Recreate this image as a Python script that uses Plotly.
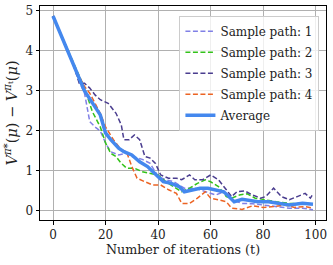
import plotly.graph_objects as go

# Data
t_avg = [0, 8, 10, 12, 15, 18, 20, 22, 25, 27, 30, 33, 36, 40, 42, 45, 48, 50, 53, 56, 59, 62, 65, 67, 69, 72, 75, 78, 82, 86, 90, 95, 99]
y_avg = [4.87, 3.6, 3.27, 3.0, 2.7, 2.4, 1.95, 1.78, 1.57, 1.48, 1.4, 1.23, 1.11, 0.86, 0.73, 0.69, 0.61, 0.48, 0.52, 0.57, 0.57, 0.52, 0.48, 0.36, 0.23, 0.29, 0.27, 0.23, 0.23, 0.19, 0.15, 0.19, 0.17]

t_p1 = [0, 8, 10, 12, 14, 16, 18, 20, 22, 25, 28, 30, 34, 37, 40, 43, 46, 50, 54, 58, 62, 65, 68, 72, 76, 80, 85, 90, 95, 99]
y_p1 = [4.87, 3.6, 3.23, 2.94, 2.23, 2.1, 2.0, 1.7, 1.48, 1.4, 1.44, 1.36, 1.29, 1.19, 0.86, 0.78, 0.73, 0.57, 0.57, 0.48, 0.4, 0.48, 0.28, 0.19, 0.18, 0.15, 0.11, 0.07, 0.07, 0.03]

t_p2 = [0, 8, 10, 12, 15, 18, 20, 22, 24, 26, 28, 31, 34, 37, 40, 43, 46, 49, 52, 55, 58, 60, 63, 66, 68, 71, 74, 77, 80, 85, 90, 95, 99]
y_p2 = [4.87, 3.65, 3.36, 3.07, 2.48, 2.1, 1.7, 1.44, 1.36, 1.19, 1.07, 1.07, 0.98, 0.94, 0.9, 0.73, 0.61, 0.48, 0.57, 0.69, 0.78, 0.73, 0.61, 0.36, 0.32, 0.4, 0.43, 0.32, 0.29, 0.23, 0.19, 0.18, 0.18]

t_p3 = [0, 8, 10, 12, 14, 16, 18, 21, 24, 26, 27, 29, 31, 33, 35, 37, 39, 41, 44, 47, 49, 52, 54, 57, 60, 63, 66, 68, 70, 73, 76, 79, 81, 84, 87, 90, 93, 96, 98, 99]
y_p3 = [4.87, 3.6, 3.19, 3.19, 3.07, 2.9, 2.78, 2.69, 2.44, 2.15, 1.78, 1.78, 1.9, 1.78, 1.36, 1.32, 1.19, 0.9, 0.82, 0.82, 0.78, 0.9, 0.78, 0.78, 0.9, 0.78, 0.53, 0.36, 0.48, 0.5, 0.4, 0.32, 0.36, 0.57, 0.36, 0.28, 0.36, 0.44, 0.32, 0.43]

t_p4 = [0, 8, 10, 12, 14, 16, 18, 20, 23, 26, 28, 30, 32, 35, 38, 41, 44, 47, 49, 52, 55, 58, 60, 63, 66, 68, 72, 76, 80, 84, 88, 92, 96, 99]
y_p4 = [4.87, 3.62, 3.36, 3.11, 2.94, 2.69, 2.44, 2.1, 1.78, 1.53, 1.48, 1.11, 0.82, 0.73, 0.65, 0.65, 0.53, 0.44, 0.19, 0.19, 0.32, 0.48, 0.32, 0.28, 0.23, 0.07, 0.04, 0.13, 0.09, 0.11, 0.15, 0.09, 0.11, 0.07]

names = ["Sample path: 1", "Sample path: 2", "Sample path: 3", "Sample path: 4"]
colors = ["#8080e6", "#33c21a", "#4a3d8f", "#ec6424"]
avg_color = "#4488ee"

FONT = "DejaVu Serif"

fig = go.Figure()
for i, (tt, yy, nm, c) in enumerate(zip([t_p1, t_p2, t_p3, t_p4], [y_p1, y_p2, y_p3, y_p4], names, colors)):
    fig.add_trace(go.Scatter(x=tt, y=yy, mode="lines", name=nm, legendgroup=f"g{i}",
                             line=dict(color=c, width=1.5, dash="5px,2.5px")))
fig.add_trace(go.Scatter(x=t_avg, y=y_avg, mode="lines", name="Average", legendgroup="avg",
                         line=dict(color=avg_color, width=3.5)))

axis_common = dict(showline=True, linecolor="black", linewidth=1, mirror=True,
                   ticks="outside", ticklen=3.5, tickcolor="black", tickwidth=0.8,
                   showgrid=True, gridcolor="#b0b0b0", gridwidth=0.8, zeroline=False,
                   automargin=False,
                   tickfont=dict(family=FONT, size=12, color="#222"))

fig.update_xaxes(range=[-4.95, 103.95], tickvals=[0, 20, 40, 60, 80, 100],
                 title=dict(text="Number of iterations (t)", font=dict(family=FONT, size=12.7, color="#222"), standoff=2),
                 **axis_common)
fig.update_yaxes(range=[-0.225, 5.12], tickvals=[0, 1, 2, 3, 4, 5],
                 title=dict(text="<i>V</i><sup><i>π</i>*</sup>(<i>μ</i>) − <i>V</i><sup><i>π</i><sub>t</sub></sup>(<i>μ</i>)",
                            font=dict(family=FONT, size=14.5, color="#222"), standoff=4),
                 **axis_common)

fig.update_layout(
    width=333, height=265,
    margin=dict(l=40, r=7, t=6, b=45),
    paper_bgcolor="white", plot_bgcolor="white",
    font=dict(family=FONT, size=12, color="#222"),
    legend=dict(x=0.977, y=0.955, xanchor="right", yanchor="top",
                bgcolor="rgba(255,255,255,0.8)", bordercolor="#cccccc", borderwidth=1,
                font=dict(family=FONT, size=12, color="#222"), tracegroupgap=2,
                itemwidth=30),
    showlegend=True,
)

fig.write_html("out.html", config={"displayModeBar": False},
               post_script="document.body.style.margin='0';document.body.style.padding='0';")
